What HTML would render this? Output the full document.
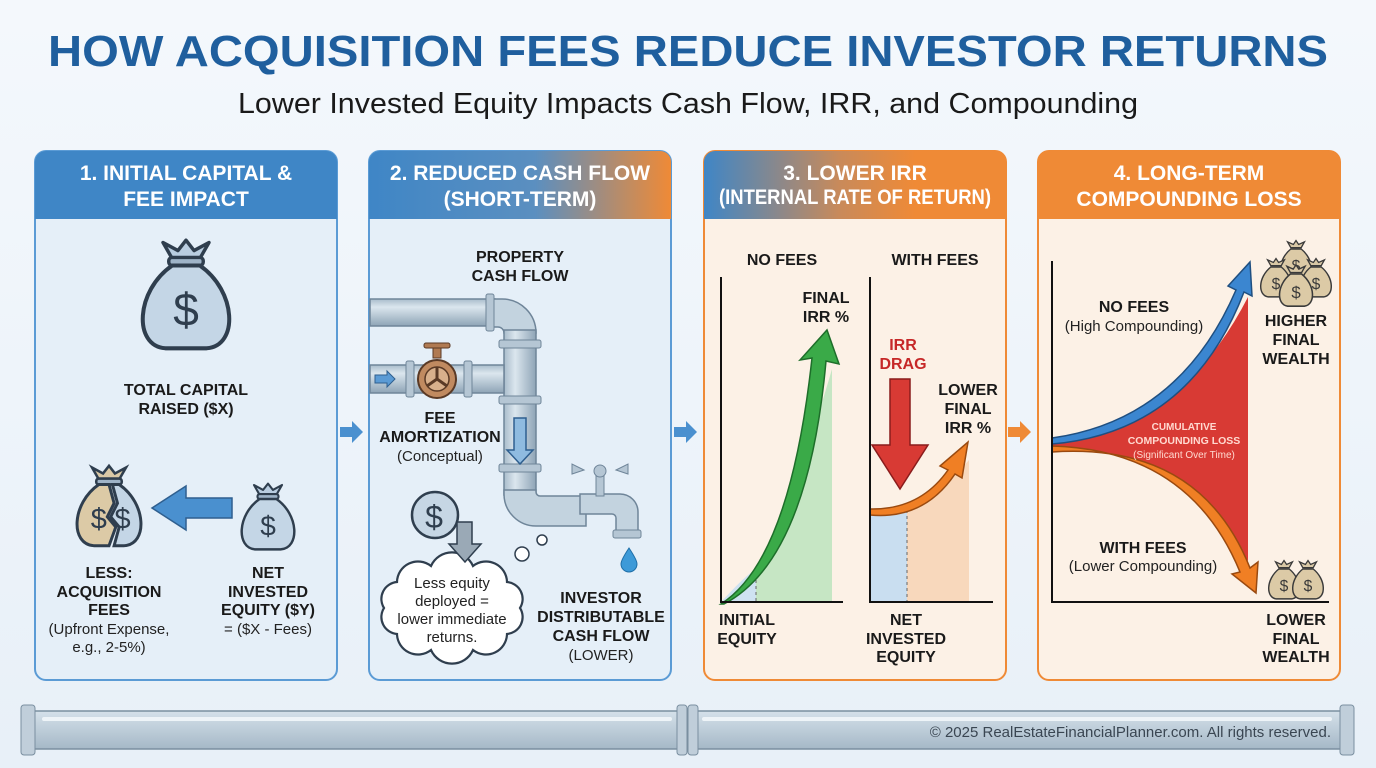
<!DOCTYPE html>
<html><head><meta charset="utf-8"><style>
html,body{margin:0;padding:0;background:#eef4fa;}
svg{display:block;font-family:"Liberation Sans",sans-serif;}
.h{font-weight:bold;fill:#fff;font-size:21px;text-anchor:middle}
.b{font-weight:bold;fill:#1a1a1a;font-size:16px;text-anchor:middle}
.n{fill:#222;font-size:15px;text-anchor:middle}
</style></head><body>
<svg width="1376" height="768" viewBox="0 0 1376 768" xmlns="http://www.w3.org/2000/svg">
<defs>
<linearGradient id="bg" x1="0" y1="0" x2="0" y2="1"><stop offset="0" stop-color="#f4f8fc"/><stop offset="1" stop-color="#e8f0f8"/></linearGradient>
<linearGradient id="g2" x1="0" x2="1"><stop offset="0" stop-color="#3f86c6"/><stop offset="0.55" stop-color="#5b8fc0"/><stop offset="1" stop-color="#ef8a36"/></linearGradient>
<linearGradient id="g3" x1="0" x2="1"><stop offset="0" stop-color="#3f86c6"/><stop offset="0.45" stop-color="#c98a5a"/><stop offset="0.7" stop-color="#ef8a36"/><stop offset="1" stop-color="#ef8a36"/></linearGradient>
<linearGradient id="pipeH" x1="0" y1="0" x2="0" y2="1"><stop offset="0" stop-color="#a9bccb"/><stop offset="0.3" stop-color="#dbe6ee"/><stop offset="1" stop-color="#8ea4b6"/></linearGradient>
<linearGradient id="pipeV" x1="0" y1="0" x2="1" y2="0"><stop offset="0" stop-color="#a9bccb"/><stop offset="0.35" stop-color="#dbe6ee"/><stop offset="1" stop-color="#8ea4b6"/></linearGradient>
<linearGradient id="bp" x1="0" y1="0" x2="0" y2="1"><stop offset="0" stop-color="#d5e1ea"/><stop offset="1" stop-color="#a5b8c7"/></linearGradient>
<g id="bag">
<path d="M-12,-36 L-20,-50 L-7,-43 L0,-52 L7,-43 L20,-50 L12,-36 Z" fill="#b9cde0" stroke="#2f3e4e" stroke-width="3" stroke-linejoin="round"/>
<rect x="-15" y="-37" width="30" height="7" rx="3" fill="#9fb4c8" stroke="#2f3e4e" stroke-width="3"/>
<path d="M-12,-30 C-44,-8 -46,40 -18,42 L18,42 C46,40 44,-8 12,-30 Z" fill="#c4d6e6" stroke="#2f3e4e" stroke-width="3.5" stroke-linejoin="round"/>
<text x="0" y="22" font-size="40" fill="#2f3e4e" text-anchor="middle" font-family="Liberation Sans">$</text>
</g>
<g id="tbag">
<path d="M-8,-22 L-13,-31 L-4,-27 L0,-33 L4,-27 L13,-31 L8,-22 Z" fill="#d9c8a6" stroke="#3a3a3a" stroke-width="2"/>
<path d="M-8,-20 C-28,-4 -28,24 -12,26 L12,26 C28,24 28,-4 8,-20 Z" fill="#dccaa6" stroke="#3a3a3a" stroke-width="2.2"/>
<text x="0" y="14" font-size="24" fill="#3a3a3a" text-anchor="middle">$</text>
</g>
</defs>
<rect width="1376" height="768" fill="url(#bg)"/>
<text x="688" y="66" font-size="44" font-weight="bold" fill="#1f5f9e" text-anchor="middle" textLength="1280" lengthAdjust="spacingAndGlyphs">HOW ACQUISITION FEES REDUCE INVESTOR RETURNS</text>
<text x="688" y="113" font-size="29" fill="#1a1a1a" text-anchor="middle" textLength="900" lengthAdjust="spacingAndGlyphs">Lower Invested Equity Impacts Cash Flow, IRR, and Compounding</text>

<!-- panels -->
<rect x="35" y="151" width="302" height="529" rx="11" fill="#e5eff8" stroke="#5b9bd5" stroke-width="2"/>
<path d="M35,219 V162 a11,11 0 0 1 11,-11 H326 a11,11 0 0 1 11,11 V219 Z" fill="#3f86c6"/>
<text class="h" x="186" y="180">1. INITIAL CAPITAL &amp;</text><text class="h" x="186" y="206">FEE IMPACT</text>

<rect x="369" y="151" width="302" height="529" rx="11" fill="#e5eff8" stroke="#5b9bd5" stroke-width="2"/>
<path d="M369,219 V162 a11,11 0 0 1 11,-11 H660 a11,11 0 0 1 11,11 V219 Z" fill="url(#g2)"/>
<text class="h" x="520" y="180">2. REDUCED CASH FLOW</text><text class="h" x="520" y="206">(SHORT-TERM)</text>

<rect x="704" y="151" width="302" height="529" rx="11" fill="#fcf1e6" stroke="#ef8a36" stroke-width="2"/>
<path d="M704,219 V162 a11,11 0 0 1 11,-11 H995 a11,11 0 0 1 11,11 V219 Z" fill="url(#g3)"/>
<text class="h" x="855" y="180">3. LOWER IRR</text><text class="h" x="855" y="204" font-size="17" textLength="272" lengthAdjust="spacingAndGlyphs">(INTERNAL RATE OF RETURN)</text>

<rect x="1038" y="151" width="302" height="529" rx="11" fill="#fcf1e6" stroke="#ef8a36" stroke-width="2"/>
<path d="M1038,219 V162 a11,11 0 0 1 11,-11 H1329 a11,11 0 0 1 11,11 V219 Z" fill="#ef8a36"/>
<text class="h" x="1189" y="180">4. LONG-TERM</text><text class="h" x="1189" y="206">COMPOUNDING LOSS</text>

<!-- between arrows -->
<path d="M340,427 h12 v-6 l11,11 l-11,11 v-6 h-12 z" fill="#4a90cf"/>
<path d="M674,427 h12 v-6 l11,11 l-11,11 v-6 h-12 z" fill="#4a90cf"/>
<path d="M1008,427 h12 v-6 l11,11 l-11,11 v-6 h-12 z" fill="#ef8a36"/>

<!-- panel 1 -->
<use href="#bag" transform="translate(186,300) scale(1.15)"/>
<text class="b" x="186" y="395">TOTAL CAPITAL</text><text class="b" x="186" y="414">RAISED ($X)</text>
<g transform="translate(109,510) scale(0.85)">
<path d="M-12,-36 L-20,-50 L-7,-43 L0,-52 L7,-43 L20,-50 L12,-36 Z" fill="#d9c8a6" stroke="#2f3e4e" stroke-width="3"/>
<rect x="-15" y="-37" width="30" height="7" rx="3" fill="#9fb4c8" stroke="#2f3e4e" stroke-width="3"/>
<path d="M-12,-30 C-44,-8 -46,40 -18,42 L0,42 L8,20 L-2,8 L6,-8 L0,-30 Z" fill="#dccaa6" stroke="#2f3e4e" stroke-width="3.5"/>
<path d="M4,-30 L10,-8 L2,8 L12,20 L6,42 L18,42 C46,40 44,-8 12,-30 Z" fill="#c4d6e6" stroke="#2f3e4e" stroke-width="3.5"/>
<text x="-12" y="22" font-size="34" fill="#2f3e4e" text-anchor="middle">$</text><text x="16" y="22" font-size="34" fill="#2f3e4e" text-anchor="middle">$</text>
</g>
<path d="M232,498 h-46 v-12 l-34,22 l34,22 v-12 h46 z" fill="#4a90cf" stroke="#2f5f8f" stroke-width="1.5"/>
<use href="#bag" transform="translate(268,520) scale(0.7)"/>
<text class="b" x="109" y="578">LESS:</text><text class="b" x="109" y="597">ACQUISITION</text><text class="b" x="109" y="615">FEES</text>
<text class="n" x="109" y="634">(Upfront Expense,</text><text class="n" x="109" y="652">e.g., 2-5%)</text>
<text class="b" x="268" y="578">NET</text><text class="b" x="268" y="597">INVESTED</text><text class="b" x="268" y="615">EQUITY ($Y)</text>
<text class="n" x="268" y="634">= ($X - Fees)</text>

<!-- panel 2 pipes -->
<rect x="370" y="299" width="125" height="27" fill="url(#pipeH)" stroke="#6f8599" stroke-width="1.5"/>
<path d="M490,299 h12 a34,34 0 0 1 34,34 v0 h-32 a6,6 0 0 0 -6,-6 h-8 z" fill="#c3d3df" stroke="#6f8599" stroke-width="1.5"/>
<rect x="486" y="294" width="8" height="37" rx="2" fill="#b5c6d4" stroke="#6f8599"/>
<rect x="504" y="330" width="32" height="165" fill="url(#pipeV)" stroke="#6f8599" stroke-width="1.5"/>
<rect x="499" y="340" width="42" height="8" rx="2" fill="#b5c6d4" stroke="#6f8599"/>
<rect x="499" y="396" width="42" height="8" rx="2" fill="#b5c6d4" stroke="#6f8599"/>
<rect x="499" y="464" width="42" height="8" rx="2" fill="#b5c6d4" stroke="#6f8599"/>
<rect x="370" y="365" width="134" height="28" fill="url(#pipeH)" stroke="#6f8599" stroke-width="1.5"/>
<rect x="406" y="361" width="8" height="36" rx="2" fill="#b5c6d4" stroke="#6f8599"/>
<rect x="464" y="361" width="8" height="36" rx="2" fill="#b5c6d4" stroke="#6f8599"/>
<path d="M375,375 h12 v-4 l8,8 l-8,8 v-4 h-12z" fill="#5b9bd5" stroke="#2f5f8f"/>
<path d="M504,490 v4 a32,32 0 0 0 32,32 h50 v-30 h-46 a4,4 0 0 1 -4,-4 v-2 z" fill="#c3d3df" stroke="#6f8599" stroke-width="1.5"/>
<path d="M580,494 h40 a18,18 0 0 1 18,18 v20 h-22 v-14 a4,4 0 0 0 -4,-4 h-32 z" fill="#c3d3df" stroke="#6f8599" stroke-width="1.5"/>
<rect x="613" y="530" width="28" height="8" rx="2" fill="#b5c6d4" stroke="#6f8599"/>
<rect x="596" y="474" width="8" height="22" fill="#b5c6d4" stroke="#6f8599"/>
<path d="M584,470 l-12,-6 v10 z M616,470 l12,-6 v10 z" fill="#b5c6d4" stroke="#6f8599"/><circle cx="600" cy="471" r="6" fill="#b5c6d4" stroke="#6f8599"/>
<path d="M629,548 c-6,9 -8,13 -8,16 a8,8 0 0 0 16,0 c0,-3 -2,-7 -8,-16z" fill="#3d9ad8" stroke="#1f6fa8"/>
<path d="M514,418 h12 v32 h7 l-13,14 l-13,-14 h7 z" fill="#8fbbe0" stroke="#2f5f8f" stroke-width="1.5"/>
<!-- valve -->
<rect x="433" y="346" width="8" height="12" fill="#b07a52" stroke="#5a3a26"/><rect x="424" y="343" width="26" height="5" rx="2" fill="#b07a52" stroke="#5a3a26"/>
<circle cx="437" cy="379" r="19" fill="#c08a60" stroke="#5a3a26" stroke-width="2"/><circle cx="437" cy="379" r="12" fill="#d8b08c" stroke="#5a3a26" stroke-width="1.5"/>
<path d="M437,379 v-12 M437,379 l10,7 M437,379 l-10,7" stroke="#5a3a26" stroke-width="3"/>
<text class="b" x="520" y="262">PROPERTY</text><text class="b" x="520" y="281">CASH FLOW</text>
<text class="b" x="440" y="423">FEE</text><text class="b" x="440" y="442">AMORTIZATION</text><text class="n" x="440" y="461">(Conceptual)</text>
<path d="M520,608 A17,17 0 0 1 507,634 A21,21 0 0 1 473,650 A23,23 0 0 1 431,650 A21,21 0 0 1 397,634 A17,17 0 0 1 384,608 A17,17 0 0 1 397,582 A21,21 0 0 1 431,566 A23,23 0 0 1 473,566 A21,21 0 0 1 507,582 A17,17 0 0 1 520,608 Z" fill="#fff" stroke="#2f3e4e" stroke-width="2.2"/>
<circle cx="435" cy="515" r="23" fill="#c6d6e4" stroke="#2f3e4e" stroke-width="2.5"/><text x="434" y="528" font-size="32" fill="#2f3e4e" text-anchor="middle">$</text>
<path d="M457,522 h15 v22 h9 l-16,18 l-16,-18 h8 z" fill="#9aa9b6" stroke="#2f3e4e" stroke-width="1.5"/>
<circle cx="522" cy="554" r="7" fill="#fff" stroke="#2f3e4e" stroke-width="1.5"/><circle cx="542" cy="540" r="5" fill="#fff" stroke="#2f3e4e" stroke-width="1.5"/>
<text class="n" x="452" y="588">Less equity</text><text class="n" x="452" y="606">deployed =</text><text class="n" x="452" y="624">lower immediate</text><text class="n" x="452" y="642">returns.</text>
<text class="b" x="601" y="603">INVESTOR</text><text class="b" x="601" y="622">DISTRIBUTABLE</text><text class="b" x="601" y="641">CASH FLOW</text><text class="n" x="601" y="660">(LOWER)</text>

<!-- panel 3 -->
<text class="b" x="782" y="265" font-size="19">NO FEES</text><text class="b" x="935" y="265" font-size="19">WITH FEES</text>
<path d="M721,602 Q760,560 756,574 V602 Z" fill="#cfe2f1"/>
<path d="M756,574 Q800,480 832,369 V602 H756 Z" fill="#c6e6c4"/>
<line x1="756" y1="574" x2="756" y2="602" stroke="#666" stroke-dasharray="3,3"/>
<path d="M721,604 Q790,560 812,358 L800,360 L827,330 L839,364 L826,361 Q808,560 724,604 Z" fill="#3aaa48" stroke="#1e6e2a" stroke-width="1.5"/>
<line x1="721" y1="277" x2="721" y2="603" stroke="#111" stroke-width="2"/><line x1="720" y1="602" x2="843" y2="602" stroke="#111" stroke-width="2"/>
<text class="b" x="826" y="303">FINAL</text><text class="b" x="826" y="322">IRR %</text>
<text class="b" x="747" y="625">INITIAL</text><text class="b" x="747" y="644">EQUITY</text>
<rect x="870" y="511" width="37" height="91" fill="#c9def0"/>
<path d="M907,507 Q940,495 969,460 V602 H907 Z" fill="#f8d8bc"/>
<line x1="907" y1="510" x2="907" y2="602" stroke="#666" stroke-dasharray="3,3"/>
<path d="M870,509 Q920,510 948,470 L940,466 L968,442 L962,478 L955,474 Q924,520 870,515 Z" fill="#f07f24" stroke="#9a4a10" stroke-width="1.5"/>
<line x1="870" y1="277" x2="870" y2="603" stroke="#111" stroke-width="2"/><line x1="869" y1="602" x2="993" y2="602" stroke="#111" stroke-width="2"/>
<text class="b" x="903" y="350" style="fill:#c62828">IRR</text><text class="b" x="903" y="369" style="fill:#c62828">DRAG</text>
<path d="M890,379 h20 v66 h18 l-28,44 l-28,-44 h18 z" fill="#d83a34" stroke="#8a1c1c" stroke-width="1.5"/>
<text class="b" x="968" y="395">LOWER</text><text class="b" x="968" y="414">FINAL</text><text class="b" x="968" y="433">IRR %</text>
<text class="b" x="906" y="625">NET</text><text class="b" x="906" y="644">INVESTED</text><text class="b" x="906" y="662">EQUITY</text>

<!-- panel 4 -->
<path d="M1052,440 Q1180,430 1248,297 V561 Q1180,445 1052,448 Z" fill="#d83a34"/>
<path d="M1052,438 Q1180,420 1236,290 L1228,286 L1250,262 L1252,296 L1244,292 Q1190,432 1052,444 Z" fill="#3b86d0" stroke="#1f4f80" stroke-width="1.5"/>
<path d="M1052,446 Q1190,450 1240,572 L1232,574 L1256,593 L1258,562 L1250,568 Q1200,442 1052,452 Z" fill="#f07f24" stroke="#9a4a10" stroke-width="1.5"/>
<line x1="1052" y1="261" x2="1052" y2="603" stroke="#111" stroke-width="2"/><line x1="1051" y1="602" x2="1329" y2="602" stroke="#111" stroke-width="2"/>
<text class="b" x="1134" y="312">NO FEES</text><text class="n" x="1134" y="331" font-size="14">(High Compounding)</text>
<text class="b" x="1143" y="553">WITH FEES</text><text class="n" x="1143" y="571" font-size="14">(Lower Compounding)</text>
<text x="1184" y="430" font-size="10" font-weight="bold" fill="#ffd9d0" text-anchor="middle">CUMULATIVE</text>
<text x="1184" y="444" font-size="10.5" font-weight="bold" fill="#ffd9d0" text-anchor="middle">COMPOUNDING LOSS</text>
<text x="1184" y="458" font-size="10" fill="#ffd9d0" text-anchor="middle">(Significant Over Time)</text>
<use href="#tbag" transform="translate(1296,262) scale(0.65)"/>
<use href="#tbag" transform="translate(1276,280) scale(0.65)"/><use href="#tbag" transform="translate(1316,280) scale(0.65)"/>
<use href="#tbag" transform="translate(1296,288) scale(0.7)"/>
<text class="b" x="1296" y="326">HIGHER</text><text class="b" x="1296" y="345">FINAL</text><text class="b" x="1296" y="364">WEALTH</text>
<use href="#tbag" transform="translate(1284,582) scale(0.65)"/><use href="#tbag" transform="translate(1308,582) scale(0.65)"/>
<text class="b" x="1296" y="625">LOWER</text><text class="b" x="1296" y="644">FINAL</text><text class="b" x="1296" y="662">WEALTH</text>

<!-- bottom pipe -->
<rect x="30" y="711" width="1318" height="38" fill="url(#bp)" stroke="#7a8fa0" stroke-width="1.5"/>
<rect x="42" y="717" width="630" height="4" rx="2" fill="#eef4f8"/><rect x="702" y="717" width="630" height="4" rx="2" fill="#eef4f8"/>
<rect x="21" y="705" width="14" height="50" rx="3" fill="#c0ceda" stroke="#7a8fa0"/>
<rect x="677" y="705" width="10" height="50" rx="3" fill="#c0ceda" stroke="#7a8fa0"/><rect x="688" y="705" width="10" height="50" rx="3" fill="#c0ceda" stroke="#7a8fa0"/>
<rect x="1340" y="705" width="14" height="50" rx="3" fill="#c0ceda" stroke="#7a8fa0"/>
<text x="1331" y="737" font-size="15" fill="#3a4652" text-anchor="end">© 2025 RealEstateFinancialPlanner.com. All rights reserved.</text>
</svg>
</body></html>
